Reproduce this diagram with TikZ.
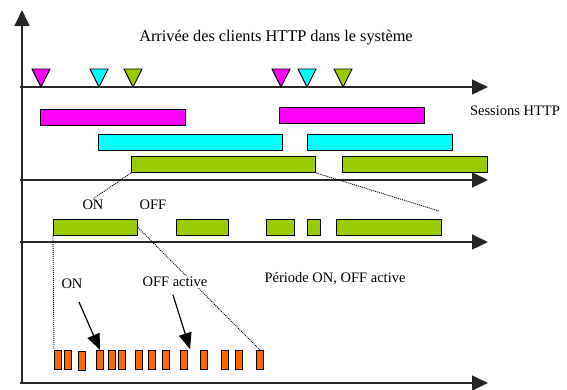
\documentclass[tikz,border=0pt]{standalone}
\usepackage{fontspec}
\setmainfont{Liberation Serif}
\usetikzlibrary{arrows.meta}
\definecolor{sesmag}{RGB}{255,0,255}
\definecolor{sescyan}{RGB}{0,255,255}
\definecolor{sesgreen}{RGB}{153,204,0}
\definecolor{paquet}{RGB}{255,102,0}
\newcommand{\arrivee}[2]{\draw[arrival,fill=#2] (#1-9,69) -- (#1+9,69) -- (#1,87) -- cycle;}
\tikzset{
  /tikz/.cd,
  sess/.style={draw,line width=0.9pt,inner sep=0pt,minimum height=16pt,anchor=north west},
  pkt/.style={draw,line width=0.9pt,fill=paquet,inner sep=0pt,minimum width=7pt,minimum height=19pt,anchor=north west},
  arrival/.style={line width=0.9pt},
  txt/.style={font=\fontsize{14.5}{16}\selectfont,inner sep=1pt}
}

\begin{document}
\begin{tikzpicture}[x=1pt,y=-1pt,
                    axis/.style={line width=1.3pt,draw=black!85,-{Triangle[length=16pt,width=15pt]}},
                    zoomline/.style={line width=0.9pt,dash pattern=on 1pt off 1pt},
                    pointer/.style={line width=1.2pt,-{Triangle[length=16pt,width=13pt]}}]
  \useasboundingbox (0,0) rectangle (567,389);

  % axes
  \draw[axis] (22,383) -- (22,10);
  \draw[axis] (20,87) -- (488,87);
  \draw[axis] (20,180) -- (488,180);
  \draw[axis] (20,242) -- (488,242);
  \draw[axis] (20,383) -- (488,383);

  \node[txt,font=\fontsize{16.3}{18}\selectfont] (titre) at (276,38) {Arrivée des clients HTTP dans le système};
  \node[txt] (sessions) at (515,111) {Sessions HTTP};

  % arrivees
  \arrivee{41}{sesmag}
  \arrivee{99}{sescyan}
  \arrivee{133}{sesgreen}
  \arrivee{281}{sesmag}
  \arrivee{307}{sescyan}
  \arrivee{343}{sesgreen}

  % sessions
  \node[sess,fill=sesmag,minimum width=145pt] (m1) at (40,109) {};
  \node[sess,fill=sesmag,minimum width=145pt] (m2) at (279,107) {};
  \node[sess,fill=sescyan,minimum width=184pt] (c1) at (98,134) {};
  \node[sess,fill=sescyan,minimum width=145pt] (c2) at (307,134) {};
  \node[sess,fill=sesgreen,minimum width=184pt] (g1) at (131,156) {};
  \node[sess,fill=sesgreen,minimum width=145pt] (g2) at (342,156) {};

  % periodes ON / OFF
  \node[sess,fill=sesgreen,minimum width=84pt] (pa) at (53,219) {};
  \node[sess,fill=sesgreen,minimum width=52pt] (pb) at (176,219) {};
  \node[sess,fill=sesgreen,minimum width=28pt] (pc) at (266,219) {};
  \node[sess,fill=sesgreen,minimum width=13pt] (pd) at (307,219) {};
  \node[sess,fill=sesgreen,minimum width=105pt] (pe) at (336,219) {};

  \node[txt] (on) at (93,205) {ON};
  \node[txt] (off) at (153,205) {OFF};

  % paquets
  \node[pkt] (o1) at (54,350) {};
  \node[pkt] (o2) at (64,350) {};
  \node[pkt] (o3) at (78,351) {};
  \node[pkt] (o4) at (96,350) {};
  \node[pkt] (o5) at (108,350) {};
  \node[pkt] (o6) at (118,350) {};
  \node[pkt] (o7) at (135,350) {};
  \node[pkt] (o8) at (148,350) {};
  \node[pkt] (o9) at (162,350) {};
  \node[pkt] (o10) at (180,350) {};
  \node[pkt] (o11) at (200,350) {};
  \node[pkt] (o12) at (221,350) {};
  \node[pkt] (o13) at (235,350) {};
  \node[pkt] (o14) at (256,350) {};

  % zoom
  \coordinate (zoomend) at (439,211);
  \draw[zoomline] (g1.south west) -- (on.north);
  \draw[zoomline] (g1.south east) -- (zoomend);
  \draw[zoomline] (pa.south west) -- (o1.north west);
  \draw[zoomline] (pa.east) -- (o14.north);

  \node[txt] (on2) at (72,284) {ON};
  \node[txt,fill=white] (offact) at (175,282) {OFF active};
  \node[txt] (periode) at (335,279) {Période ON, OFF active};

  \coordinate (onstart) at (79,302);
  \coordinate (offstart) at (173,295);
  \coordinate (offtip) at (190,349);
  \draw[pointer] (onstart) -- (o4.north);
  \draw[pointer] (offstart) -- (offtip);
\end{tikzpicture}
\end{document}
